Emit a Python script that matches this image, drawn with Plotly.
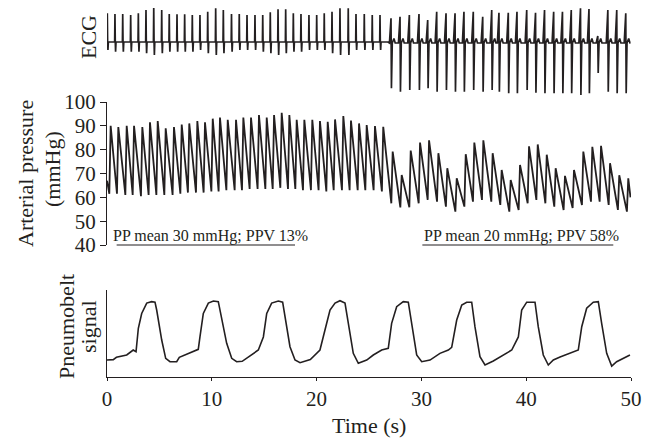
import plotly.graph_objects as go

# ---------------- ECG (arbitrary units, baseline 0) ----------------
ecg_left_t = [0.03, 0.76, 1.50, 2.26, 2.99, 3.72, 4.46, 5.22, 5.94, 6.68, 7.41, 8.14,
              8.87, 9.61, 10.37, 11.10, 11.88, 12.62, 13.36, 14.12, 14.86, 15.58, 16.32, 17.05,
              17.78, 18.51, 19.27, 20.01, 20.73, 21.47, 22.23, 23.02, 23.76, 24.55, 25.31, 26.05]
ecg_left_r = [2.87, 2.8, 2.8, 2.7, 2.87, 3.2, 3.53, 3.2, 2.8, 2.77, 2.77, 2.7,
              2.7, 3.03, 3.37, 3.2, 2.8, 2.8, 2.7, 2.7, 2.7, 2.97, 3.27, 3.27,
              2.87, 2.8, 2.7, 2.7, 2.87, 3.03, 3.37, 3.37, 2.8, 2.8, 2.7, 2.7]
ecg_left_s = [-0.8, -0.97, -0.97, -0.97, -0.97, -1.13, -1.3, -1.13, -0.97, -0.97, -0.97, -0.97,
              -0.8, -1.13, -1.3, -1.13, -0.97, -0.8, -0.8, -0.8, -0.97, -1.13, -1.3, -1.13,
              -0.97, -0.97, -0.8, -0.8, -0.8, -1.13, -1.3, -1.3, -0.8, -0.8, -0.8, -0.8]
ecg_right_t = [27.10, 27.96, 28.85, 29.77, 30.60, 31.46, 32.35, 33.21, 34.06, 34.95, 35.85,
               36.71, 37.40, 38.29, 39.12, 40.05, 40.89, 41.75, 42.62, 43.46, 44.30, 45.18,
               45.99, 46.83, 47.79, 48.64, 49.50]
ecg_right_r = [2.37, 2.53, 2.7, 2.8, 2.2, 3.03, 2.87, 2.87, 3.03, 3.03, 2.53, 3.2, 2.93, 2.93,
               3.03, 3.2, 2.93, 3.2, 3.03, 3.03, 3.2, 3.37, 3.3, 0.6, 3.2, 3.2, 2.87]
ecg_right_s = [-4.63, -4.97, -4.8, -4.8, -4.63, -4.97, -4.8, -4.97, -4.97, -4.8, -4.97, -4.8,
               -4.97, -5.13, -5.13, -4.8, -5.07, -5.13, -5.13, -5.13, -5.13, -5.3, -5.13, -3.1,
               -4.97, -5.13, -5.13]

# ---------------- Arterial pressure (mmHg) ----------------
ap_left_t = [0.35, 1.08, 1.88, 2.58, 3.37, 4.10, 4.84, 5.60, 6.39, 7.13, 7.85, 8.62,
             9.35, 10.09, 10.78, 11.52, 12.31, 13.01, 13.74, 14.50, 15.24, 15.94, 16.67, 17.40,
             18.10, 18.83, 19.59, 20.32, 21.06, 21.76, 22.55, 23.28, 24.05, 24.78, 25.57, 26.36]
ap_left_peak = [90, 89.5, 90, 90, 89.5, 91.5, 92, 89, 89.5, 90.5, 91, 92,
                91.5, 93, 93.5, 92.5, 92.5, 93.5, 93.5, 94.5, 93.5, 94.5, 95.5, 94.5,
                92.5, 92.5, 92.5, 92, 91.7, 92.7, 94.1, 92.2, 91, 90.3, 89.9, 89.6]
ap_left_trough = [61.5, 61.5, 61, 61, 60.5, 61, 61, 61, 61, 61.5, 62, 62,
                  62, 62.5, 62.5, 63, 63, 63, 63.5, 63.5, 63.5, 63.5, 64, 63.5,
                  63.5, 63, 63, 63, 62.5, 63, 63, 63, 63, 63, 63, 62.5]
ap_right_t = [27.26, 28.12, 28.98, 29.87, 30.73, 31.62, 32.47, 33.37, 34.23, 35.05, 35.91,
              36.80, 37.66, 38.52, 39.41, 40.27, 41.10, 41.96, 42.81, 43.70, 44.56, 45.45,
              46.31, 47.14, 48.00, 48.88, 49.74]
ap_right_peak = [79.2, 69.4, 79.6, 83, 83.9, 78.5, 72.2, 68, 78.1, 83, 83.9, 78.5, 71.5, 67.3,
                 73.6, 81.4, 82.2, 77.9, 72.2, 69, 71.5, 79.2, 81.2, 81.6, 74.3, 69.3, 68]
ap_right_trough = [57.5, 55.8, 55.8, 57.5, 58.9, 58.2, 56.1, 54, 56.1, 58.2, 58.9, 58.2, 56.8,
                   54, 54.7, 57.5, 58.9, 57.5, 56.1, 54.7, 55.5, 56.8, 58.2, 58.2, 56.8, 54.7, 54]
ap_start = [0.0, 67.0]
ap_end = [49.95, 60.0]

pp_labels = ["PP mean 30 mmHg; PPV 13%", "PP mean 20 mmHg; PPV 58%"]
pp_label_x = [0.38, 30.06]
pp_spans = [[0.92, 17.94], [30.09, 48.31]]

# ---------------- Pneumobelt signal (arbitrary units 0..1) ----------------
pb_t = [0.0, 0.6, 0.9, 1.88, 2.5, 2.77, 2.99, 3.31, 3.79, 4.26, 4.58, 4.74, 5.22, 5.6,
        6.01, 6.65, 6.9, 7.92, 8.71, 8.87, 9.19, 9.67, 10.15, 10.62, 10.94, 11.42, 11.9,
        12.37, 12.9, 13.96, 14.44, 14.92, 15.24, 15.71, 16.35, 16.76, 16.98, 17.46, 17.94,
        18.42, 19.4, 20.32, 20.8, 21.28, 21.76, 22.23, 22.71, 23.03, 23.5, 23.98, 24.78,
        25.41, 26.21, 26.84, 27.16, 27.64, 28.27, 28.75, 29.07, 29.55, 30.03, 30.82, 31.77,
        32.57, 32.89, 33.37, 33.85, 34.32, 34.8, 35.11, 35.59, 36.07, 36.86, 37.82, 38.62,
        39.25, 39.57, 40.05, 40.84, 41.15, 41.63, 42.11, 42.59, 43.23, 44.49, 44.97, 45.3,
        45.77, 46.4, 46.88, 47.2, 47.68, 48.16, 48.63, 49.9]
pb_v = [0.195, 0.2, 0.226, 0.253, 0.31, 0.29, 0.56, 0.73, 0.85, 0.866, 0.86, 0.77, 0.425, 0.215,
        0.176, 0.176, 0.226, 0.28, 0.318, 0.46, 0.73, 0.85, 0.873, 0.866, 0.69, 0.387, 0.215,
        0.176, 0.18, 0.272, 0.31, 0.46, 0.73, 0.85, 0.873, 0.86, 0.69, 0.348, 0.195,
        0.164, 0.2, 0.31, 0.54, 0.77, 0.85, 0.877, 0.85, 0.617, 0.272, 0.157, 0.195,
        0.253, 0.31, 0.33, 0.617, 0.808, 0.866, 0.86, 0.617, 0.253, 0.176, 0.195, 0.272,
        0.31, 0.34, 0.655, 0.828, 0.86, 0.86, 0.578, 0.233, 0.138, 0.184, 0.253, 0.31,
        0.46, 0.77, 0.86, 0.86, 0.578, 0.253, 0.138, 0.195, 0.23, 0.29, 0.31, 0.578,
        0.79, 0.86, 0.866, 0.617, 0.272, 0.126, 0.176, 0.253]

INK = "#231f20"
FONT = "Liberation Serif"

# build ECG trace
ex, ey = [0.0], [0.0]
for t, r, s in zip(ecg_left_t, ecg_left_r, ecg_left_s):
    ex += [max(t - 0.03, 0.0), t, t + 0.03, t + 0.06, t + 0.10]
    ey += [0.0, r, 0.0, s, 0.0]
ex += [26.8]
ey += [0.0]
for t, r, s in zip(ecg_right_t, ecg_right_r, ecg_right_s):
    ex += [t - 0.15, t, t + 0.04, t + 0.12, t + 0.28, t + 0.40]
    ey += [-0.1, r, s, -0.1, 0.35, -0.1]
ex += [49.95]
ey += [-0.1]

# build pressure trace
px_, py_ = [ap_start[0]], [ap_start[1]]
for t, p, tr in zip(ap_left_t + ap_right_t, ap_left_peak + ap_right_peak,
                    ap_left_trough + ap_right_trough):
    px_ += [t - 0.13, t]
    py_ += [tr, p]
px_ += [ap_end[0]]
py_ += [ap_end[1]]

fig = go.Figure()
line = dict(color=INK, width=1.8)
fig.add_trace(go.Scatter(x=ex, y=ey, mode="lines", line=dict(color=INK, width=1.7),
                         xaxis="x", yaxis="y3", hoverinfo="skip", showlegend=False))
fig.add_trace(go.Scatter(x=px_, y=py_, mode="lines", line=line, xaxis="x", yaxis="y2",
                         hoverinfo="skip", showlegend=False))
fig.add_trace(go.Scatter(x=pb_t, y=pb_v, mode="lines", line=dict(color=INK, width=1.6),
                         xaxis="x", yaxis="y", hoverinfo="skip", showlegend=False))

# page has an 8 px body margin: figure is drawn 8 px right/down of the window origin
OFF = 8
W, H = 651 - OFF, 439 - OFF
ML, MR, MT = 107 - OFF, 20, 0
MB = H - (377 - OFF)
PH = H - MT - MB
PW = W - ML - MR


def py(pix):
    return (PH - (pix - OFF - MT)) / PH


def pxp(pix):
    return (pix - OFF - ML) / PW


fig.update_layout(
    width=W, height=H, margin=dict(l=ML, r=MR, t=MT, b=MB, pad=0),
    template="none", paper_bgcolor="white", plot_bgcolor="white",
    font=dict(family=FONT, size=20, color=INK),
    xaxis=dict(range=[0, 50], domain=[0, 1], showline=True, linecolor=INK, linewidth=1.2,
               ticks="outside", ticklen=3, tickcolor=INK, tickvals=[0, 10, 20, 30, 40, 50],
               showgrid=False, zeroline=False, anchor="y",
               tickfont=dict(family=FONT, size=21, color=INK)),
    yaxis=dict(range=[0, 1], domain=[0, py(290)], showline=True, linecolor=INK, linewidth=1.2,
               ticks="", showticklabels=False, showgrid=False, zeroline=False, anchor="x"),
    yaxis2=dict(range=[40, 100], domain=[py(245), py(102)], showline=True, linecolor=INK,
                linewidth=1.2, ticks="outside", ticklen=6, tickcolor=INK,
                tickvals=[40, 50, 60, 70, 80, 90, 100], showgrid=False, zeroline=False,
                anchor="x", tickfont=dict(family=FONT, size=21, color=INK)),
    yaxis3=dict(range=[-5.8, 3.4], domain=[py(100), 1.0], visible=False, anchor="x",
                showgrid=False, zeroline=False),
)

ann = [
    dict(text="ECG", x=pxp(89), y=py(37), textangle=-90),
    dict(text="Arterial pressure", x=pxp(25), y=py(174), textangle=-90),
    dict(text="(mmHg)", x=pxp(52), y=py(169), textangle=-90),
    dict(text="Pneumobelt", x=pxp(66), y=py(327), textangle=-90),
    dict(text="signal", x=pxp(88), y=py(327), textangle=-90),
    dict(text="Time (s)", x=pxp(369), y=py(425)),
]
for a in ann:
    fig.add_annotation(xref="paper", yref="paper", xanchor="center", yanchor="middle",
                       showarrow=False, font=dict(family=FONT, size=22, color=INK), **a)

for lab, lx, (a, b) in zip(pp_labels, pp_label_x, pp_spans):
    fig.add_annotation(text=lab, x=lx, y=43.8, xref="x", yref="y2", xanchor="left",
                       yanchor="middle", showarrow=False,
                       font=dict(family=FONT, size=16, color=INK))
    fig.add_shape(type="line", x0=a, x1=b, y0=py(245), y1=py(245), xref="x", yref="paper",
                  line=dict(color=INK, width=1.2))

fig.write_html("out.html")
